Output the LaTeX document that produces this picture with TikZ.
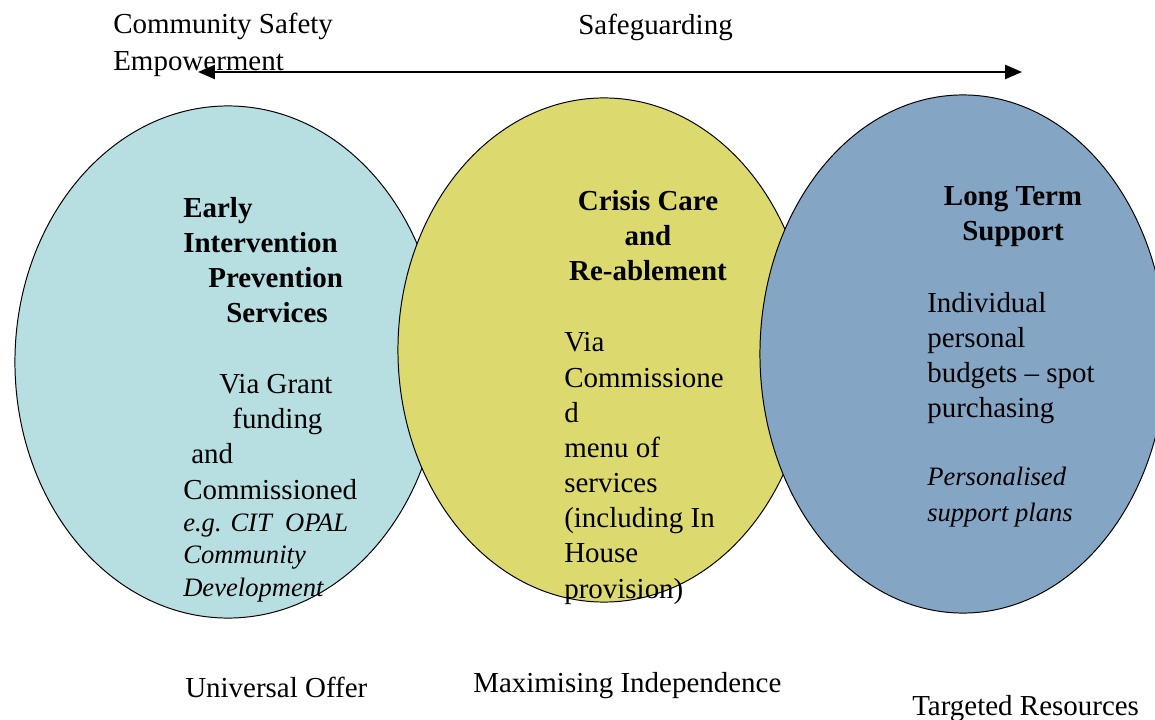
\documentclass[tikz,border=0pt]{standalone}
\usepackage{fontspec}
\setmainfont{Liberation Serif}
\usepackage{xcolor}
\usepackage{tikz}
\usetikzlibrary{arrows.meta}
\usetikzlibrary{shapes.geometric}
\definecolor{cyanfill}{RGB}{183,222,225}
\definecolor{yellowfill}{RGB}{220,217,110}
\definecolor{bluefill}{RGB}{133,165,196}
\tikzset{
    blob/.style = {ellipse, draw=black, line width=0.7pt, inner sep=0pt},
    cyan_blob/.style = {blob, fill=cyanfill, minimum width=10.65cm, minimum height=12.8cm},
    yellow_blob/.style = {blob, fill=yellowfill, minimum width=10.3cm, minimum height=12.6cm},
    blue_blob/.style = {blob, fill=bluefill, minimum width=10.15cm, minimum height=12.95cm}
}
\tikzset{
    tnode/.style = {inner sep=0pt, anchor=base west, align=left},
    head/.style = {tnode, font=\fontsize{20.6pt}{24.9pt}\selectfont\bfseries},
    chead/.style = {head, anchor=base, align=center},
    body/.style = {tnode, font=\fontsize{20.6pt}{25pt}\selectfont},
    note/.style = {tnode, font=\fontsize{18.9pt}{22.8pt}\selectfont\itshape},
    wide_note/.style = {note, font=\fontsize{18.9pt}{24.9pt}\selectfont\itshape}
}

\begin{document}
\begin{tikzpicture}[x=0.025cm, y=-0.025cm]
    \useasboundingbox (0,0) rectangle (1155,720);
    % the three circles, drawn left to right so each overlaps the last
    \node [cyan_blob] (early) at (228,362) {};
    \node [yellow_blob] (crisis) at (604,350) {};
    \node [blue_blob] (longterm) at (963,354) {};
    % arrow along the top
    \coordinate (west) at (198,72);
    \coordinate (east) at (1022,72);
    \draw [{Triangle[length=12pt,width=10pt]}-{Triangle[length=12pt,width=10pt]}, line width=1.4pt] (west) -- (east);
    % (multi-line nodes sit on the baseline of their last line)
    \node [body] (safety) at (113,71) {Community Safety\\[1.4pt]Empowerment};
    \node [body] (safeguard) at (578,35) {Safeguarding};
    % text in the circles
    \node [head] (early_head) at (183,323)
        {Early\\Intervention\\\hspace*{17.8pt}Prevention\\\hspace*{30.6pt}Services};
    \node [body] (early_body) at (183,499)
        {\hspace*{25.6pt}Via Grant\\\hspace*{34.9pt}funding\\\hspace*{5.7pt}and\\Commissioned};
    \node [note] (early_note) at (183,596)
        {e.g. CIT\ \ OPAL\\Community\\Development};
    \node [chead] (crisis_head) at (648,281) {Crisis Care\\and\\Re-ablement};
    \node [body] (crisis_body) at (564,598)
        {Via\\Commissione\\d\\menu of\\services\\(including In\\House\\provision)};
    \node [chead] (longterm_head) at (1013,241) {Long Term\\Support};
    \node [body] (longterm_body) at (927,418)
        {Individual\\personal\\budgets -- spot\\purchasing};
    \node [wide_note] (longterm_note) at (927,521) {Personalised\\support plans};
    % labels underneath
    \node [body] (universal) at (185,697) {Universal Offer};
    \node [body] (maximising) at (473,692) {Maximising Independence};
    \node [body] (targeted) at (912,715) {Targeted Resources};
\end{tikzpicture}
\end{document}
